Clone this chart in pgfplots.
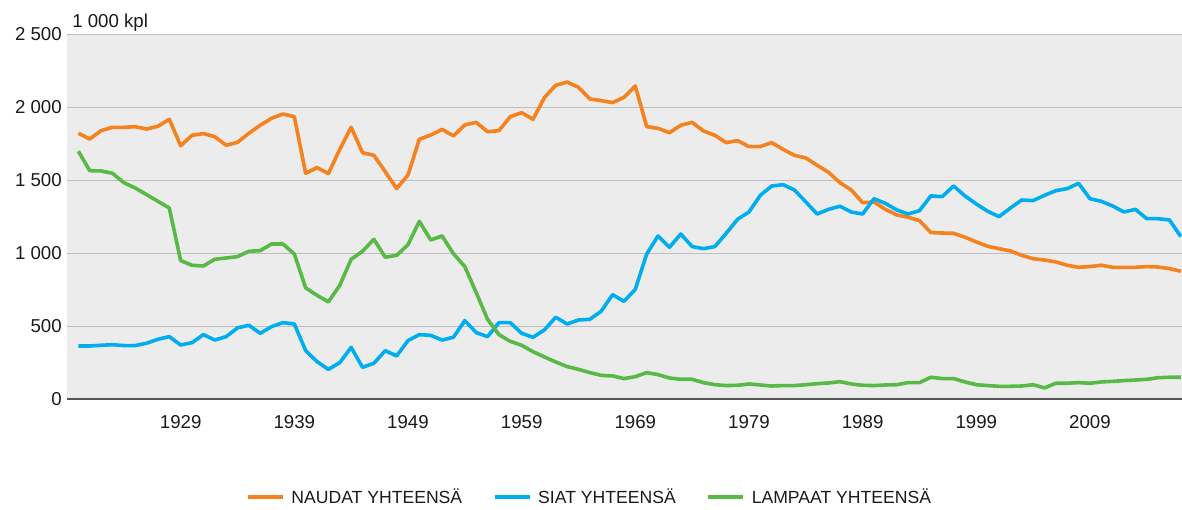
\documentclass[border=0pt]{standalone}
\usepackage{pgfplots}
\pgfplotsset{compat=1.18}
\usepackage{pgfplotstable}
\usepackage{fontspec}
\setmainfont{Liberation Sans}
\definecolor{cOrange}{HTML}{F5821F}
\definecolor{cBlue}{HTML}{00AEEF}
\definecolor{cGreen}{HTML}{58B947}
\definecolor{cBg}{HTML}{ECECEC}
\definecolor{cGrid}{HTML}{BFBFBF}
\definecolor{cAxis}{HTML}{555555}
\definecolor{cText}{HTML}{1A1A1A}

\pgfplotstableread{
year naudat siat lampaat
1920 1822 365 1699
1921 1783 365 1566
1922 1840 370 1564
1923 1863 374 1548
1924 1863 368 1484
1925 1867 368 1447
1926 1851 384 1402
1927 1870 411 1356
1928 1918 429 1310
1929 1737 372 950
1930 1808 388 918
1931 1820 443 913
1932 1799 406 959
1933 1740 429 968
1934 1760 489 977
1935 1822 507 1014
1936 1877 452 1018
1937 1925 498 1064
1938 1954 525 1064
1939 1936 516 995
1940 1548 333 763
1941 1587 258 712
1942 1546 205 667
1943 1712 251 781
1944 1863 356 959
1945 1689 219 1014
1946 1671 247 1096
1947 1559 333 973
1948 1443 297 986
1949 1536 402 1059
1950 1781 443 1219
1951 1810 438 1091
1952 1849 406 1119
1953 1804 425 997
1954 1879 539 909
1955 1897 457 731
1956 1833 429 548
1957 1840 525 443
1958 1936 525 397
1959 1963 452 370
1960 1918 425 326
1961 2066 475 290
1962 2151 562 256
1963 2173 516 224
1964 2137 543 205
1965 2057 548 183
1966 2046 603 164
1967 2032 717 160
1968 2068 671 142
1969 2146 753 155
1970 1868 995 183
1971 1856 1119 169
1972 1826 1041 146
1973 1877 1132 137
1974 1897 1046 137
1975 1838 1032 114
1976 1808 1046 100
1977 1758 1137 94
1978 1772 1233 96
1979 1731 1283 105
1980 1731 1397 98
1981 1758 1461 91
1982 1712 1470 94
1983 1671 1434 94
1984 1653 1352 100
1985 1603 1269 107
1986 1555 1301 112
1987 1484 1322 121
1988 1434 1283 105
1989 1347 1269 96
1990 1351 1374 94
1991 1301 1342 98
1992 1263 1297 100
1993 1247 1269 114
1994 1224 1292 114
1995 1142 1393 151
1996 1139 1388 142
1997 1137 1461 142
1998 1110 1393 119
1999 1078 1338 100
2000 1048 1288 94
2001 1032 1251 89
2002 1016 1310 89
2003 986 1365 91
2004 963 1361 100
2005 954 1397 78
2006 941 1429 110
2007 918 1443 110
2008 904 1479 114
2009 909 1374 110
2010 918 1356 119
2011 904 1324 123
2012 904 1283 128
2013 904 1301 132
2014 909 1237 137
2015 906 1237 148
2016 895 1228 151
2017 877 1114 151
}\datatable

\begin{document}
\begin{tikzpicture}
\useasboundingbox (-50.25pt,-83.025pt) rectangle (836.25pt,299.475pt);
\begin{axis}[
  name=main,
  at={(0,0)}, anchor=south west,
  scale only axis,
  width=836.25pt, height=273.75pt,
  xmin=1919, xmax=2017.1,
  ymin=0, ymax=2500,
  axis background/.style={fill=cBg},
  axis line style={draw=none},
  major tick length=0pt,
  tick style={draw=none},
  xtick={1929,1939,1949,1959,1969,1979,1989,1999,2009},
  xticklabels={1929,1939,1949,1959,1969,1979,1989,1999,2009},
  ytick={500,1000,1500,2000,2500},
  yticklabels={500,1 000,1 500,2 000,2 500},
  extra y ticks={0},
  extra y tick labels={0},
  extra y tick style={grid style={color=cAxis, line width=1.6pt}},
  ymajorgrids,
  grid style={color=cGrid, line width=1.1pt},
  ticklabel style={font=\fontsize{14}{16}\selectfont, text=cText},
  yticklabel style={anchor=east, inner sep=0pt, xshift=-3.75pt},
  xticklabel style={anchor=north, inner sep=0pt, yshift=-11.6pt},
  legend columns=3,
  legend style={draw=none, fill=none, at={(0.469,-0.267)}, anchor=center,
    font=\fontsize{13.2}{15}\selectfont, text=cText, inner sep=0pt,
    /tikz/every odd column/.append style={column sep=3pt},
    /tikz/every even column/.append style={column sep=21pt}},
  legend image code/.code={\draw[#1, line width=3pt] (0pt,0pt) -- (26pt,0pt);},
  every axis plot/.append style={line width=2.7pt, line join=round, no markers},
  clip=true,
]
\addplot[color=cOrange] table[x=year, y=naudat] {\datatable};
\addlegendentry{NAUDAT YHTEENSÄ}
\addplot[color=cBlue] table[x=year, y=siat] {\datatable};
\addlegendentry{SIAT YHTEENSÄ}
\addplot[color=cGreen] table[x=year, y=lampaat] {\datatable};
\addlegendentry{LAMPAAT YHTEENSÄ}
\end{axis}
\node[anchor=base west, inner sep=0pt, font=\fontsize{14}{16}\selectfont, text=cText]
  at ([xshift=3.75pt, yshift=5.25pt]main.north west) {1 000 kpl};
\end{tikzpicture}
\end{document}
